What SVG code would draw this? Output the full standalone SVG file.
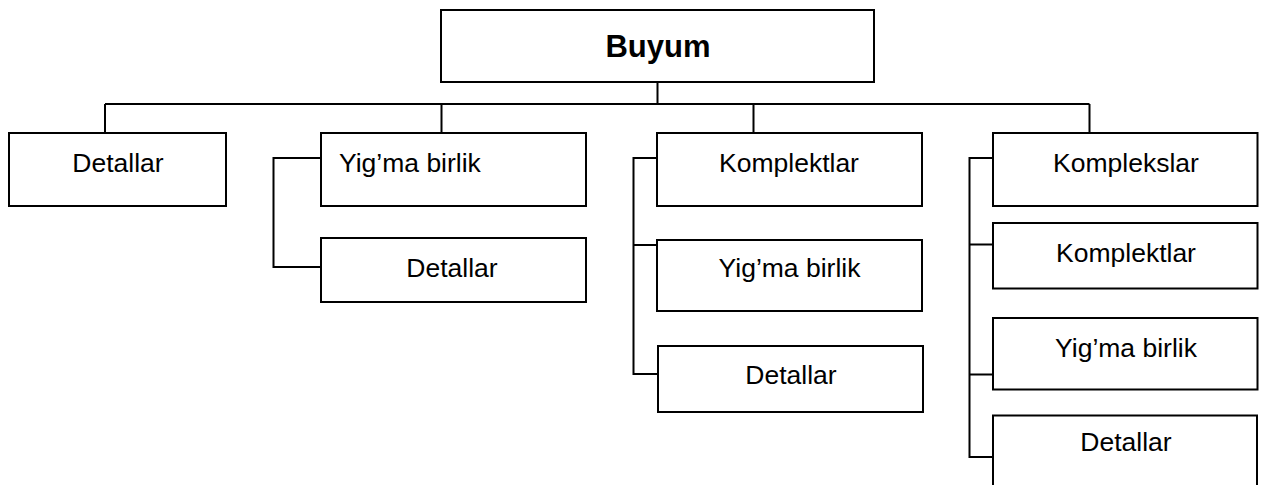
<svg xmlns="http://www.w3.org/2000/svg" width="1262" height="485" viewBox="0 0 1262 485">
<style>
.box{fill:#fff;stroke:#000;stroke-width:2}
.ln{fill:none;stroke:#000;stroke-width:2}
.t{font-family:"Liberation Sans",Arial,sans-serif;font-size:26.5px;fill:#000}
.c{text-anchor:middle}
.b{font-size:31px;font-weight:bold}
</style>
<rect width="1262" height="485" fill="#fff"/>
<g id="connectors">
<path class="ln" d="M657.5 82V104M105 104H1089.5M105 104V133M441.5 104V133M753.5 104V133M1089.5 104V133"/>
<path class="ln" d="M321 158H273.5V267H321"/>
<path class="ln" d="M657 158H633.5V374H658M633.5 245H657"/>
<path class="ln" d="M993 158H969.5V457H993M969.5 244.5H993M969.5 374.5H993"/>
</g>
<g id="buyum"><rect class="box" x="441" y="10" width="433" height="72"/><text class="t c b" x="658" y="57">Buyum</text></g>
<g id="detallar1"><rect class="box" x="9" y="133" width="217" height="73"/><text class="t c" x="118" y="172">Detallar</text></g>
<g id="yigma1"><rect class="box" x="321" y="133" width="265" height="73"/><text class="t" x="339" y="172">Yig’ma birlik</text></g>
<g id="detallar2"><rect class="box" x="321" y="238" width="265" height="64"/><text class="t c" x="452" y="277">Detallar</text></g>
<g id="komplektlar1"><rect class="box" x="657" y="133" width="265" height="73"/><text class="t c" x="789" y="172">Komplektlar</text></g>
<g id="yigma2"><rect class="box" x="657" y="240" width="265" height="71"/><text class="t c" x="789.5" y="277">Yig’ma birlik</text></g>
<g id="detallar3"><rect class="box" x="658" y="346" width="265" height="66"/><text class="t c" x="791" y="384">Detallar</text></g>
<g id="komplekslar"><rect class="box" x="993" y="133" width="264.5" height="73"/><text class="t c" x="1126" y="172">Komplekslar</text></g>
<g id="komplektlar2"><rect class="box" x="993" y="223" width="264.5" height="65.5"/><text class="t c" x="1126" y="262">Komplektlar</text></g>
<g id="yigma3"><rect class="box" x="993" y="318" width="264.5" height="71.5"/><text class="t c" x="1126" y="357">Yig’ma birlik</text></g>
<g id="detallar4"><rect class="box" x="993" y="415.5" width="264" height="80"/><text class="t c" x="1126" y="451">Detallar</text></g>
</svg>
